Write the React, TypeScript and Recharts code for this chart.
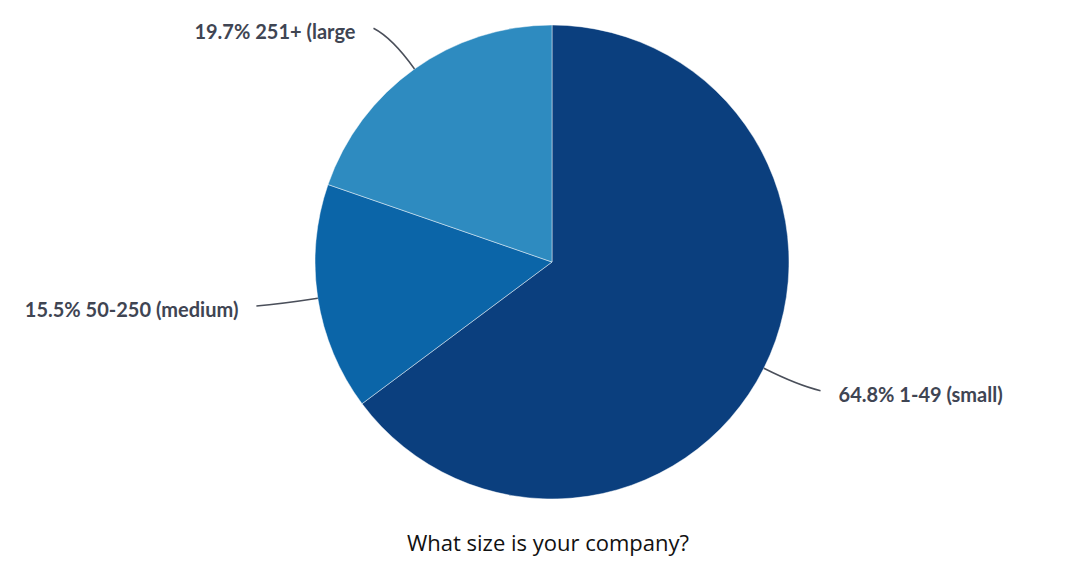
import React from 'react';
import { PieChart, Pie, Cell } from 'recharts';

const categories = ['1-49 (small)', '50-250 (medium)', '251+ (large'];
const shares = [64.8, 15.5, 19.7];
const colors = ['#0b3f7e', '#0b65a8', '#2e8bc0'];

const data = categories.map((name, i) => ({ name, value: shares[i] }));

const RAD = Math.PI / 180;

const renderLabel = (props: any) => {
  const { cx, cy, midAngle, outerRadius, index } = props;
  const cos = Math.cos(-midAngle * RAD);
  const sin = Math.sin(-midAngle * RAD);
  const p = (r: number) => [cx + r * cos, cy + r * sin];
  const [x0, y0] = p(outerRadius);
  const [xc, yc] = p(outerRadius + 38);
  const [xe0, ye] = p(outerRadius + 50);
  const sign = cos >= 0 ? 1 : -1;
  const xe = xe0 + sign * 12;
  const tx = xe + sign * 18;
  return (
    <g>
      <path
        d={`M${x0},${y0} Q${xc},${yc} ${xe},${ye}`}
        stroke="#4a4f5a"
        strokeWidth={1.5}
        fill="none"
      />
      <text
        x={tx}
        y={ye + 3}
        textAnchor={sign > 0 ? 'start' : 'end'}
        dominantBaseline="central"
        fill="#3f4553"
        style={{ fontFamily: 'Lato, "Open Sans", sans-serif', fontWeight: 700, fontSize: 20 }}
      >
        {`${shares[index].toFixed(1)}% ${categories[index]}`}
      </text>
    </g>
  );
};

export default function App() {
  return (
    <div style={{ position: 'absolute', left: 0, top: 0, width: 1080, height: 580, background: '#fff' }}>
      <PieChart width={1080} height={580} margin={{ top: 0, right: 0, bottom: 0, left: 0 }}>
        <Pie
          data={data}
          dataKey="value"
          nameKey="name"
          cx={552}
          cy={262}
          outerRadius={237}
          startAngle={90}
          endAngle={-270}
          stroke="rgba(255,255,255,0.45)"
          strokeWidth={1}
          label={renderLabel}
          labelLine={false}
          isAnimationActive={false}
        >
          {data.map((_, i) => (
            <Cell key={i} fill={colors[i]} />
          ))}
        </Pie>
        <text
          x={548}
          y={542}
          textAnchor="middle"
          dominantBaseline="central"
          fill="#111111"
          style={{ fontFamily: '"Open Sans", sans-serif', fontSize: 22 }}
        >
          What size is your company?
        </text>
      </PieChart>
    </div>
  );
}
